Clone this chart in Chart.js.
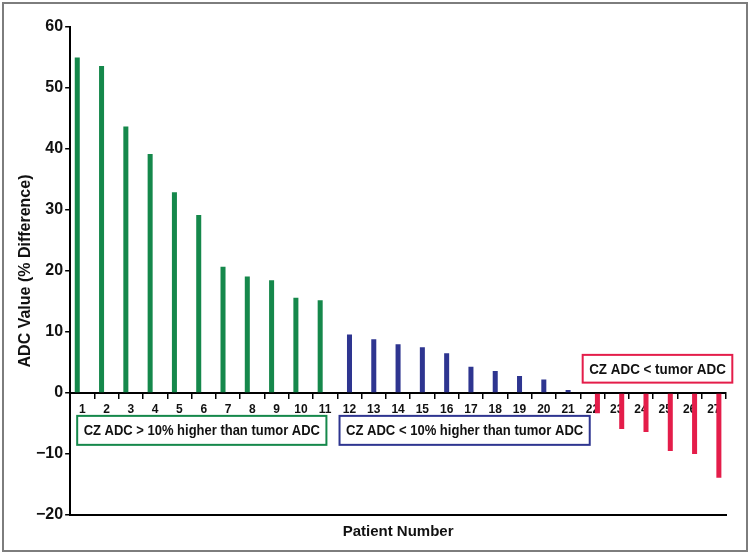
<!DOCTYPE html>
<html>
<head>
<meta charset="utf-8">
<script src="https://cdn.jsdelivr.net/npm/chart.js@4.4.1/dist/chart.umd.min.js"></script>
<style>
  html, body { margin: 0; padding: 0; background: #fff; }
  #wrap { width: 750px; height: 554px; position: relative; }
</style>
</head>
<body>
<div id="wrap"><canvas id="myChart"></canvas></div>
<script>
const patients = ['1','2','3','4','5','6','7','8','9','10','11','12','13','14','15','16','17','18','19','20','21','22','23','24','25','26','27'];

// CZ ADC > 10% higher than tumor ADC (patients 1-11)
const higherThan10 = [55, 53.6, 43.7, 39.2, 32.9, 29.2, 20.7, 19.1, 18.5, 15.6, 15.2];
// CZ ADC < 10% higher (patients 12-21)
const within10 = [9.6, 8.8, 8.0, 7.5, 6.5, 4.3, 3.6, 2.8, 2.2, 0.5];
// CZ ADC < tumor ADC (patients 22-27)
const belowTumor = [-3.3, -5.9, -6.4, -9.5, -10.0, -13.9];

const yTicks = [-20, -10, 0, 10, 20, 30, 40, 50, 60];

const green = '#15884b';
const blue = '#2e3590';
const red = '#e41d4a';
const font = 'Liberation Sans, Arial, Helvetica, sans-serif';

// pad each group out to the full 27 patients
const greenData = patients.map((p, i) => i < 11 ? higherThan10[i] : null);
const blueData = patients.map((p, i) => i >= 11 && i < 21 ? within10[i - 11] : null);
const redData = patients.map((p, i) => i >= 21 ? belowTumor[i - 21] : null);

// legend boxes, placed in axis units
const notes = [
  { text: 'CZ ADC > 10% higher than tumor ADC', x0: -0.21, x1: 10.05, y0: -3.75, y1: -8.5, color: green },
  { text: 'CZ ADC < 10% higher than tumor ADC', x0: 10.59, x1: 20.89, y0: -3.75, y1: -8.5, color: blue },
  { text: 'CZ ADC < tumor ADC', x0: 20.6, x1: 26.76, y0: 6.25, y1: 1.7, color: red }
];

const notesPlugin = {
  id: 'notes',
  afterDatasetsDraw(chart) {
    const c = chart.ctx;
    const xs = chart.scales.x, ys = chart.scales.y;
    notes.forEach(n => {
      const l = xs.getPixelForValue(n.x0), r = xs.getPixelForValue(n.x1);
      const t = ys.getPixelForValue(n.y0), b = ys.getPixelForValue(n.y1);
      c.save();
      c.fillStyle = '#fff';
      c.fillRect(l, t, r - l, b - t);
      c.strokeStyle = n.color;
      c.lineWidth = 2;
      c.strokeRect(l, t, r - l, b - t);
      c.fillStyle = '#111';
      c.font = 'bold 14.5px ' + font;
      c.textAlign = 'center';
      c.textBaseline = 'middle';
      c.fillText(n.text, (l + r) / 2, (t + b) / 2 + 1, r - l - 13);
      c.restore();
    });
  }
};

const framePlugin = {
  id: 'frame',
  afterDraw(chart) {
    const c = chart.ctx;
    c.save();
    c.strokeStyle = '#7d7d7d';
    c.lineWidth = 2;
    c.strokeRect(3, 3, chart.width - 6, chart.height - 6);
    c.restore();
  }
};

const ctx = document.getElementById('myChart');

new Chart(ctx, {
  type: 'bar',
  data: {
    labels: patients,
    datasets: [
      { data: greenData, backgroundColor: green },
      { data: blueData, backgroundColor: blue },
      { data: redData, backgroundColor: red }
    ]
  },
  options: {
    responsive: true,
    maintainAspectRatio: false,
    animation: false,
    categoryPercentage: 0.62,
    barPercentage: 1.0,
    layout: { padding: { top: 27, right: 24, bottom: 1, left: 18 } },
    plugins: { legend: { display: false }, tooltip: { enabled: false } },
    scales: {
      x: {
        position: { y: 0 },
        offset: true,
        grid: { display: true, offset: true, drawOnChartArea: false, drawTicks: true, tickLength: 5, color: '#000', lineWidth: 1.5 },
        border: { display: true, color: '#000', width: 2 },
        ticks: { color: '#111', font: { family: font, size: 12, weight: 'bold' }, padding: 4, maxRotation: 0, autoSkip: false }
      },
      xb: {
        type: 'category',
        labels: patients,
        position: 'bottom',
        offset: true,
        grid: { display: false },
        border: { display: true, color: '#000', width: 2 },
        ticks: { display: false },
        title: { display: true, text: 'Patient Number', color: '#111', font: { family: font, size: 15, weight: 'bold' }, padding: { top: 0, bottom: 12 } }
      },
      y: {
        min: -20,
        max: 60,
        afterBuildTicks: axis => { axis.ticks = yTicks.map(v => ({ value: v })); },
        grid: { display: true, drawOnChartArea: false, drawTicks: true, tickLength: 5, color: '#000', lineWidth: 1.5 },
        border: { display: true, color: '#000', width: 2 },
        ticks: {
          color: '#111',
          padding: 2,
          font: { family: font, size: 16, weight: 'bold' },
          callback: v => v < 0 ? '\u2212' + Math.abs(v) : v
        },
        title: { display: true, text: 'ADC Value (% Difference)', color: '#111', font: { family: font, size: 16, weight: 'bold', lineHeight: 1 }, padding: { top: 0, bottom: 0 } }
      }
    }
  },
  plugins: [notesPlugin, framePlugin]
});
</script>
</body>
</html>
